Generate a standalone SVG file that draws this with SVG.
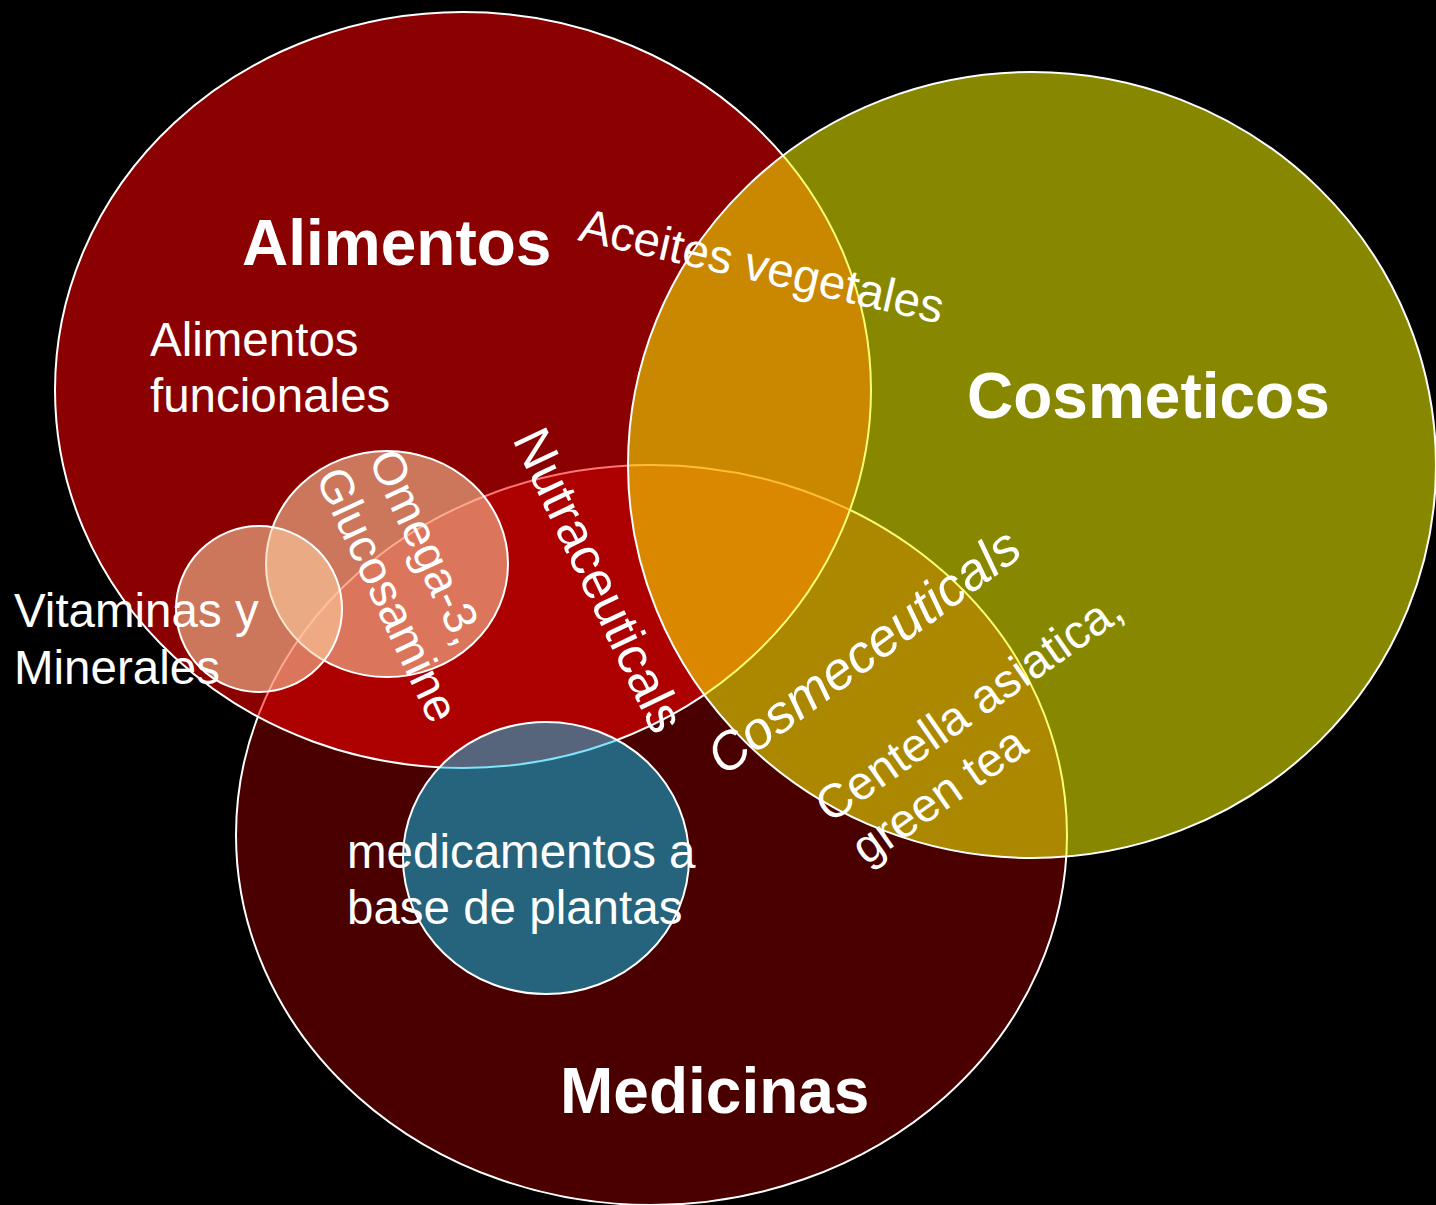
<svg xmlns="http://www.w3.org/2000/svg" width="1436" height="1205" viewBox="0 0 1436 1205">
<style>
.t{font-family:"Liberation Sans",Arial,sans-serif;fill:#fff;}
.b{font-weight:bold;font-size:64px;}
.r{font-size:47.5px;}
.ring{stroke:#fff;stroke-width:2;}
.small{fill:#FFD3A4;fill-opacity:0.56;}
</style>
<rect width="1436" height="1205" fill="#000"/>
<g id="medicinas"><ellipse class="ring" cx="651.5" cy="835" rx="415.5" ry="370" fill="#4B0000"/></g>
<g id="alimentos"><ellipse class="ring" cx="463" cy="390" rx="408" ry="378" fill="#FF0000" fill-opacity="0.545"/></g>
<g id="cosmeticos"><ellipse class="ring" cx="1032" cy="465" rx="404" ry="393" fill="#FFFF00" fill-opacity="0.533"/></g>
<g id="plantas"><ellipse class="ring" cx="546" cy="858" rx="143" ry="136" fill="#00C8F8" fill-opacity="0.5"/></g>
<g id="omega"><ellipse class="ring small" cx="387" cy="564" rx="121" ry="113"/></g>
<g id="vitaminas"><ellipse class="ring small" cx="259" cy="609" rx="83" ry="83"/></g>
<g id="connectors"></g>
<g id="labels">
<text class="t b" x="242" y="265">Alimentos</text>
<text class="t b" x="967" y="418">Cosmeticos</text>
<text class="t b" x="560" y="1113">Medicinas</text>
<text class="t r" x="150" y="356">Alimentos</text>
<text class="t r" x="150" y="412">funcionales</text>
<text class="t r" x="14" y="627">Vitaminas y</text>
<text class="t r" x="14" y="684">Minerales</text>
<text class="t r" x="347" y="868">medicamentos a</text>
<text class="t r" x="347" y="924">base de plantas</text>
<text class="t" font-size="47.5" transform="translate(577,240) rotate(13)">Aceites vegetales</text>
<text class="t" font-size="52" transform="translate(512,439) rotate(64.5)">Nutraceuticals</text>
<text class="t" font-size="47" transform="translate(368,459) rotate(65)">Omega-3,</text>
<text class="t" font-size="47" transform="translate(315,477) rotate(65)">Glucosamine</text>
<text class="t" font-size="53" font-style="italic" transform="translate(724,777) rotate(-36.5)">Cosmeceuticals</text>
<text class="t" font-size="47.5" transform="translate(830,824) rotate(-35)">Centella asiatica,</text>
<text class="t" font-size="47.5" transform="translate(866,866) rotate(-35)">green tea</text>
</g>
</svg>
